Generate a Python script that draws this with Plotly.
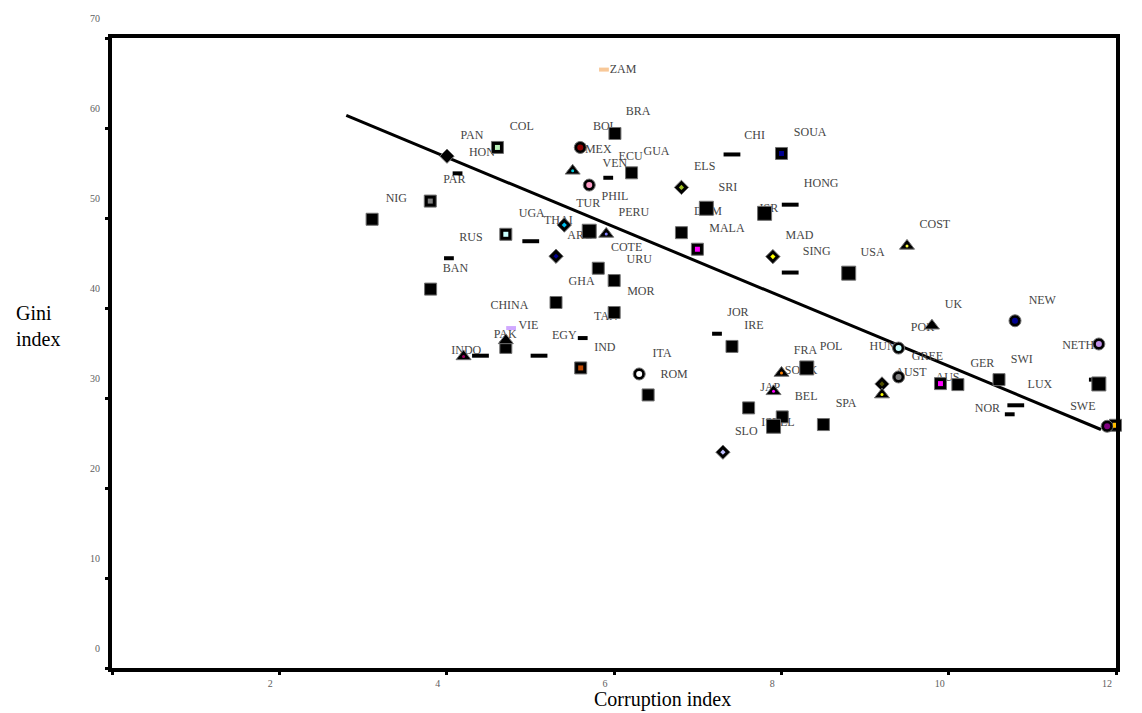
import plotly.graph_objects as go

# ---------------- data ----------------
# country labels (label anchor positions, in data units)
label_names = ["ZAM", "BRA", "BOL", "COL", "PAN", "HON", "PAR", "MEX", "VEN", "ECU",
               "GUA", "NIG", "TUR", "PHIL", "ELS", "SRI", "CHI", "SOUA", "HONG", "DOM",
               "ISR", "UGA", "THAI", "RUS", "ARG", "PERU", "MALA", "COTE", "URU", "MAD",
               "SING", "USA", "COST", "BAN", "GHA", "MOR", "CHINA", "TAN", "VIE", "PAK",
               "EGY", "IND", "INDO", "ITA", "ROM", "JOR", "IRE", "FRA", "POL", "SOUK",
               "JAP", "BEL", "SPA", "SLO", "ISREL", "HUN", "GREE", "AUST", "AUS", "GER",
               "SWI", "LUX", "NOR", "SWE", "CAN", "FIN", "UK", "POR", "NEW", "DEN", "NETH"]
label_x = [6.109, 6.289, 5.891, 4.898, 4.302, 4.421, 4.091, 5.812, 6.011, 6.198,
           6.508, 3.399, 5.692, 6.011, 7.084, 7.362, 7.680, 8.345, 8.476, 7.123,
           7.851, 5.017, 5.335, 4.290, 5.593, 6.237, 7.350, 6.150, 6.301, 8.217,
           8.423, 9.091, 9.835, 4.106, 5.613, 6.321, 4.750, 5.903, 4.977, 4.699,
           5.406, 5.891, 4.234, 6.575, 6.718, 7.481, 7.672, 8.289, 8.595, 8.237,
           7.868, 8.297, 8.774, 7.581, 7.960, 9.210, 9.747, 9.549, 9.986, 10.403,
           10.873, 11.091, 10.463, 11.604, 12.001, 12.153, 10.057, 9.687, 11.119, 12.113, 11.548]
label_y = [66.49, 61.79, 60.06, 60.06, 59.09, 57.17, 54.21, 57.54, 55.99, 56.73,
           57.28, 52.07, 51.55, 52.36, 55.69, 53.29, 59.09, 59.39, 53.74, 50.70,
           51.00, 50.44, 49.67, 47.75, 48.00, 50.59, 48.78, 46.64, 45.34, 48.00,
           46.20, 46.09, 49.19, 44.35, 42.87, 41.76, 40.24, 38.95, 37.95, 37.03,
           36.92, 35.55, 35.18, 34.92, 32.59, 39.43, 38.03, 35.18, 35.62, 32.96,
           31.12, 30.12, 29.35, 26.20, 27.24, 35.67, 34.51, 32.78, 32.23, 33.78,
           34.26, 31.49, 28.82, 29.01, 34.15, 29.24, 40.35, 37.77, 40.80, 38.21, 35.73]

# plotted points: corruption index (x) and Gini index (y), marker kind and fill colour
corruption = [5.880, 6.011, 4.607, 4.004, 4.130, 5.597, 5.506, 6.210, 5.931, 5.704,
              3.804, 6.806, 7.410, 8.002, 8.106, 7.104, 7.800, 5.406, 4.707, 5.005,
              5.704, 5.907, 6.806, 6.997, 7.899, 8.106, 8.805, 9.502, 5.307, 4.027,
              3.808, 5.812, 6.002, 5.307, 6.002, 4.770, 4.707, 4.707, 5.626, 5.602,
              4.202, 4.404, 5.104, 6.301, 6.408, 7.231, 7.410, 8.304, 8.002, 7.907,
              7.609, 8.011, 7.907, 8.503, 7.302, 9.401, 9.800, 10.793, 11.795, 9.401,
              9.203, 9.203, 9.902, 10.110, 10.602, 10.802, 10.730, 11.795, 11.735, 11.894,
              11.994, 3.109]
gini = [66.49, 59.39, 57.84, 56.87, 54.96, 57.84, 55.24, 55.02, 54.47, 53.66,
        51.88, 53.40, 57.06, 57.17, 51.48, 51.08, 50.52, 49.22, 48.19, 47.42,
        48.53, 48.23, 48.37, 46.53, 45.71, 43.94, 43.87, 46.90, 45.75, 45.53,
        42.10, 44.42, 43.05, 40.61, 39.50, 37.77, 36.40, 35.62, 36.66, 33.34,
        34.62, 34.70, 34.70, 32.67, 30.34, 37.14, 35.73, 33.34, 32.78, 30.74,
        28.90, 27.90, 26.86, 27.05, 23.98, 35.55, 38.03, 38.58, 36.00, 32.34,
        31.56, 30.38, 31.60, 31.49, 32.04, 29.19, 28.19, 31.56, 32.04, 26.86,
        26.97, 49.86]
marker_kind = ["ds", "sq", "sq", "di", "ds", "ci", "tr", "sq", "ds", "ci",
               "sq", "di", "da", "sq", "da", "sqL", "sqL", "di", "sq", "da",
               "sqL", "tr", "sq", "sq", "di", "da", "sqL", "tr", "di", "ds",
               "sq", "sq", "sq", "sq", "sq", "ds", "tr", "sq", "ds", "sq",
               "tr", "da", "da", "ci", "sq", "ds", "sq", "sqL", "tr", "tr",
               "sq", "sq", "sqL", "sq", "di", "ci", "tr", "ci", "ci", "ci",
               "di", "tr", "sq", "sq", "sq", "da", "ds", "sqL", "ds", "ci",
               "sq", "sq"]
fill_color = ["#f8c898", None, "#b8f0b8", None, None, "#8b0000", "#00c8d8", None, None, "#ff9ec8",
              "#808080", "#a0c020", None, "#000090", None, None, None, "#00c0f0", "#c8ffff", None,
              None, "#8080ff", None, "#ff00ff", "#ffff00", None, None, "#ffff40", "#000090", None,
              None, None, None, None, None, "#d0a8ff", None, None, None, "#c04800",
              "#a00060", None, None, "#ffffff", None, None, None, None, "#ff8000", "#ff00ff",
              None, None, None, None, "#c0c0ff", "#c8ffff", None, "#000090", "#c090e8", "#808080",
              "#505000", "#ffff00", "#ff00ff", None, None, None, None, None, None, "#800080",
              "#ffc000", None]

# fitted regression line (end points)
fit_x = [2.80, 11.82]
fit_y = [61.4, 26.5]

x_ticks = [0, 2, 4, 6, 8, 10, 12]
x_tick_text = ["", "2", "4", "6", "8", "10", "12"]
y_ticks = [0, 10, 20, 30, 40, 50, 60, 70]
y_tick_text = ["0", "10", "20", "30", "40", "50", "60", "70"]

# ---------------- styles ----------------
SERIF = "Liberation Serif, Times New Roman, serif"
outer_style = {
    "sq":  dict(symbol="square", size=12),
    "sqL": dict(symbol="square", size=14),
    "ci":  dict(symbol="circle", size=12),
    "di":  dict(symbol="diamond", size=11),
    "tr":  dict(symbol="triangle-up", size=13),
}
inner_style = {
    "sq":  dict(symbol="square", size=5),
    "sqL": dict(symbol="square", size=5),
    "ci":  dict(symbol="circle", size=6),
    "di":  dict(symbol="diamond", size=4),
    "tr":  dict(symbol="circle", size=3),
}
dash_style = {"da": dict(size=12, width=4), "ds": dict(size=7, width=4)}

fig = go.Figure()

# regression line
fig.add_trace(go.Scatter(x=fit_x, y=fit_y, mode="lines",
                         line=dict(color="black", width=3), hoverinfo="skip"))

# labels
fig.add_trace(go.Scatter(x=label_x, y=label_y, mode="text", text=label_names,
                         textposition="middle center", cliponaxis=False,
                         textfont=dict(family=SERIF, size=12, color="#454545"),
                         hoverinfo="skip"))

# dashes
for kind, st in dash_style.items():
    idx = [i for i, k in enumerate(marker_kind) if k == kind]
    fig.add_trace(go.Scatter(
        x=[corruption[i] for i in idx], y=[gini[i] for i in idx], mode="markers",
        cliponaxis=False, hoverinfo="skip",
        marker=dict(symbol="line-ew", size=st["size"],
                    line=dict(width=st["width"],
                              color=[fill_color[i] or "black" for i in idx]))))

# outer markers
for kind, st in outer_style.items():
    idx = [i for i, k in enumerate(marker_kind) if k == kind]
    fig.add_trace(go.Scatter(
        x=[corruption[i] for i in idx], y=[gini[i] for i in idx], mode="markers",
        cliponaxis=False, hoverinfo="skip",
        marker=dict(symbol=st["symbol"], size=st["size"], color="black",
                    line=dict(width=1, color="#707070"))))

# inner coloured markers
for kind, st in inner_style.items():
    idx = [i for i, k in enumerate(marker_kind) if k == kind and fill_color[i]]
    if not idx:
        continue
    fig.add_trace(go.Scatter(
        x=[corruption[i] for i in idx], y=[gini[i] for i in idx], mode="markers",
        cliponaxis=False, hoverinfo="skip",
        marker=dict(symbol=st["symbol"], size=st["size"],
                    color=[fill_color[i] for i in idx], line=dict(width=0))))

axis_common = dict(showline=True, linecolor="black", linewidth=4, mirror=True,
                   showgrid=False, zeroline=False, ticks="outside", ticklen=3,
                   tickwidth=3, tickcolor="black",
                   tickfont=dict(family=SERIF, size=10, color="#606060"))

fig.update_layout(
    width=1142, height=713,
    margin=dict(l=112, r=26, t=38, b=45),
    paper_bgcolor="white", plot_bgcolor="white",
    showlegend=False,
    xaxis=dict(range=[0, 12], tickvals=x_ticks, ticktext=x_tick_text,
               ticklabelshift=-9, ticklabelstandoff=0, **axis_common),
    yaxis=dict(range=[0, 70], tickvals=y_ticks, ticktext=y_tick_text,
               ticklabelshift=-20, ticklabelstandoff=3, **axis_common),
    annotations=[
        dict(text="Corruption index", xref="paper", yref="paper", x=0.548, y=-0.05,
             xanchor="center", yanchor="middle", showarrow=False,
             font=dict(family=SERIF, size=20, color="black")),
        dict(text="Gini<br>index", xref="paper", yref="paper", x=-0.098, y=0.543,
             xanchor="left", yanchor="middle", align="left", showarrow=False,
             font=dict(family=SERIF, size=20, color="black")),
    ],
)

fig.write_html("out.html", config={"displayModeBar": False},
               post_script="document.body.style.margin='0';")
